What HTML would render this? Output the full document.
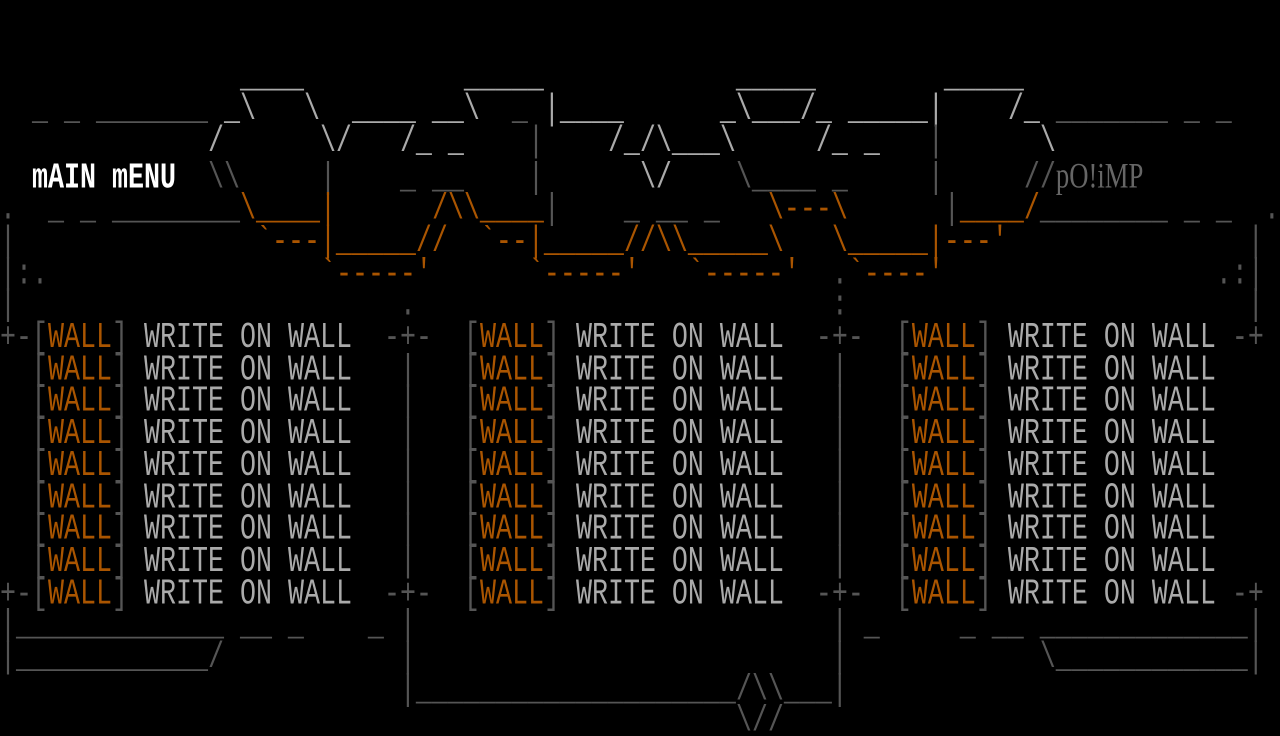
<!DOCTYPE html>
<html><head><meta charset="utf-8"><style>
html,body{margin:0;padding:0;background:#000;width:1280px;height:736px;overflow:hidden}
pre{margin:0;font-family:"Liberation Mono",monospace;font-size:26.667px;line-height:23.704px;transform:scaleY(1.35);transform-origin:0 0;color:#aaa;white-space:pre}
.l{color:#aaa}.d{color:#555}.o{color:#aa5500}.w{color:#fff;font-weight:bold}.s{font-family:"Liberation Serif",serif;color:#666}
</style></head><body><pre>


               <span class="l">____</span>          <span class="l">_____</span>            <span class="l">_____</span>        <span class="l">_____</span>
  <span class="d">_ _ _______</span> <span class="l">_\   \  ____ __\</span>  <span class="d">_</span> <span class="l">|____</span>      <span class="l">_\___/_ _____|</span>    <span class="l">/_</span> <span class="d">_______ _ _</span>
             <span class="l">/</span>      <span class="l">\/</span>   <span class="l">/_ _</span>    <span class="d">|</span>    <span class="l">/_/\___\</span>     <span class="l">/_ _</span>   <span class="d">|</span>      <span class="l">\</span>
  <span class="w">mAIN mENU</span>  <span class="d">\\</span>     <span class="d">|</span>    <span class="d">_ __</span>    <span class="d">|</span>      <span class="l">\/</span>    <span class="d">\____ _</span>     <span class="d">|</span>     <span class="d">//</span><span class="s">pO!iMP</span>
<span class="d">.</span>  <span class="d">_ _ ________</span><span class="o">\____|</span>      <span class="o">/\\____</span><span class="d">|</span>    <span class="d">_ __ _</span>   <span class="o">\---\</span>      <span class="d">|</span><span class="o">____/</span><span class="d">________ _ _</span>  <span class="d">.</span>
<span class="d">|</span>               <span class="o">`---|_____//</span>  <span class="o">`--|_____/</span><span class="o">/\\_____\</span>   <span class="o">\_____|---'</span>               <span class="d">|</span>
<span class="d">|:.</span>                 <span class="o">`-----'</span>      <span class="o">`-----'</span>   <span class="o">`-----'</span>  <span class="d">.</span><span class="o">`----'</span>                 <span class="d">.:|</span>
<span class="d">|</span>                        <span class="d">.</span>                          <span class="d">:</span>                         <span class="d">|</span>
<span class="d">+-[</span><span class="o">WALL</span><span class="d">]</span> WRITE ON WALL  <span class="d">-+-</span>  <span class="d">[</span><span class="o">WALL</span><span class="d">]</span> WRITE ON WALL  <span class="d">-+-</span>  <span class="d">[</span><span class="o">WALL</span><span class="d">]</span> WRITE ON WALL <span class="d">-+</span>
  <span class="d">[</span><span class="o">WALL</span><span class="d">]</span> WRITE ON WALL   <span class="d">|</span>   <span class="d">[</span><span class="o">WALL</span><span class="d">]</span> WRITE ON WALL   <span class="d">|</span>   <span class="d">[</span><span class="o">WALL</span><span class="d">]</span> WRITE ON WALL
  <span class="d">[</span><span class="o">WALL</span><span class="d">]</span> WRITE ON WALL   <span class="d">|</span>   <span class="d">[</span><span class="o">WALL</span><span class="d">]</span> WRITE ON WALL   <span class="d">|</span>   <span class="d">[</span><span class="o">WALL</span><span class="d">]</span> WRITE ON WALL
  <span class="d">[</span><span class="o">WALL</span><span class="d">]</span> WRITE ON WALL   <span class="d">|</span>   <span class="d">[</span><span class="o">WALL</span><span class="d">]</span> WRITE ON WALL   <span class="d">|</span>   <span class="d">[</span><span class="o">WALL</span><span class="d">]</span> WRITE ON WALL
  <span class="d">[</span><span class="o">WALL</span><span class="d">]</span> WRITE ON WALL   <span class="d">|</span>   <span class="d">[</span><span class="o">WALL</span><span class="d">]</span> WRITE ON WALL   <span class="d">|</span>   <span class="d">[</span><span class="o">WALL</span><span class="d">]</span> WRITE ON WALL
  <span class="d">[</span><span class="o">WALL</span><span class="d">]</span> WRITE ON WALL   <span class="d">|</span>   <span class="d">[</span><span class="o">WALL</span><span class="d">]</span> WRITE ON WALL   <span class="d">|</span>   <span class="d">[</span><span class="o">WALL</span><span class="d">]</span> WRITE ON WALL
  <span class="d">[</span><span class="o">WALL</span><span class="d">]</span> WRITE ON WALL   <span class="d">|</span>   <span class="d">[</span><span class="o">WALL</span><span class="d">]</span> WRITE ON WALL   <span class="d">|</span>   <span class="d">[</span><span class="o">WALL</span><span class="d">]</span> WRITE ON WALL
  <span class="d">[</span><span class="o">WALL</span><span class="d">]</span> WRITE ON WALL   <span class="d">|</span>   <span class="d">[</span><span class="o">WALL</span><span class="d">]</span> WRITE ON WALL   <span class="d">|</span>   <span class="d">[</span><span class="o">WALL</span><span class="d">]</span> WRITE ON WALL
<span class="d">+-[</span><span class="o">WALL</span><span class="d">]</span> WRITE ON WALL  <span class="d">-+-</span>  <span class="d">[</span><span class="o">WALL</span><span class="d">]</span> WRITE ON WALL  <span class="d">-+-</span>  <span class="d">[</span><span class="o">WALL</span><span class="d">]</span> WRITE ON WALL <span class="d">-+</span>
<span class="d">|_____________ __ _    _ |                          | _     _ __ _____________|</span>
<span class="d">|____________/           |                          |            \____________|</span>
<span class="d">                         |____________________/\\___|</span>
<span class="d">                                              \//</span>
</pre></body></html>
